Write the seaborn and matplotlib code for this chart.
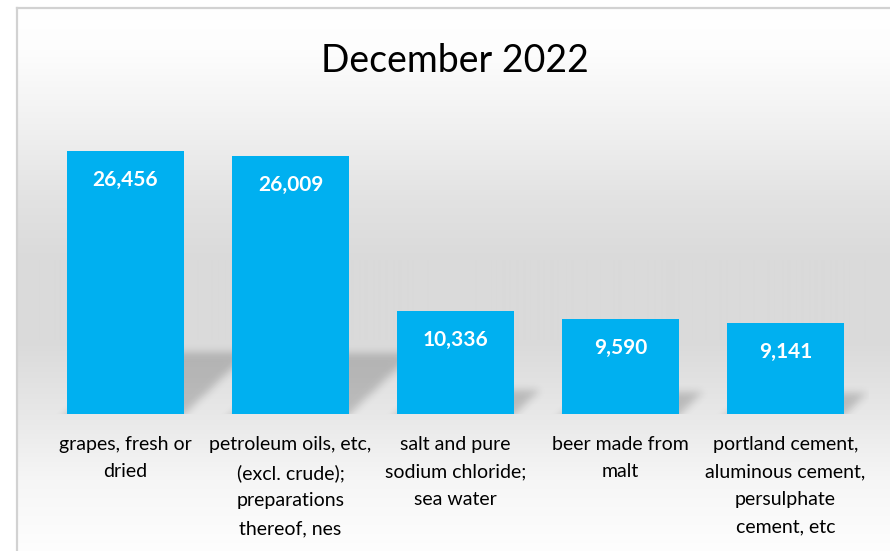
import numpy as np
import pandas as pd
import matplotlib
matplotlib.use("Agg")
import matplotlib.pyplot as plt
import seaborn as sns
from matplotlib.path import Path

# ---------------- data ----------------
categories = [
    "grapes, fresh or\ndried",
    "petroleum oils, etc,\n(excl. crude);\npreparations\nthereof, nes",
    "salt and pure\nsodium chloride;\nsea water",
    "beer made from\nmalt",
    "portland cement,\naluminous cement,\npersulphate\ncement, etc",
]
values = [26456, 26009, 10336, 9590, 9141]
title = "December 2022"

sns.set_theme(style="white")
plt.rcParams["font.family"] = ["Lato", "DejaVu Sans"]

W, H = 890, 551
fig = plt.figure(figsize=(W / 100, H / 100), dpi=100)
fig.patch.set_facecolor("white")

# ---------------- background panel with vertical gradient ----------------
top_px = 8
bg = fig.add_axes([17 / W, 0, 1 - 17 / W, (H - top_px) / H])
stops_y = np.array([8, 50, 130, 200, 260, 340, 420, 480, 551]) - top_px
stops_v = np.array([255, 253, 240, 226, 218, 218, 233, 246, 254]) / 255
yy = np.arange(H - top_px)
g = np.interp(yy, stops_y, stops_v)
grad = np.repeat(g[:, None], 2, axis=1)
bg.imshow(np.dstack([grad] * 3), aspect="auto", extent=(0, 1, 0, 1),
          origin="upper", interpolation="bilinear")
bg.set_xticks([])
bg.set_yticks([])
for s in ["right", "bottom"]:
    bg.spines[s].set_visible(False)
for s in ["top", "left"]:
    bg.spines[s].set_color("#d2d2d2")
    bg.spines[s].set_linewidth(1.6)

# ---------------- main axes ----------------
ax_left, ax_right, ax_base, ax_top = 43, 868, 414, 136
ax = fig.add_axes([ax_left / W, (H - ax_base) / H,
                   (ax_right - ax_left) / W, (ax_base - ax_top) / H])
ax.set_facecolor("none")
YMAX = 28000

df = pd.DataFrame({"category": categories, "value": values})
sns.barplot(data=df, x="category", y="value", color="#00B0F0",
            saturation=1, width=0.71, ax=ax, zorder=2,
            edgecolor="none", linewidth=0)
ax.set_xlim(-0.5, 4.5)
ax.set_ylim(0, YMAX)

# ---------------- soft perspective shadows ----------------
pw, ph = ax_right - ax_left, ax_base - ax_top
pad = 30
xs = np.arange(pw) + 0.5
ys = np.arange(-pad, ph) + 0.5
XX, YY = np.meshgrid(-0.5 + xs / (pw / 5.0), ys / ph * YMAX)
pts = np.column_stack([XX.ravel(), YY.ravel()])
mask = np.zeros(XX.shape)
for p in ax.patches:
    xl, w, h = p.get_x(), p.get_width(), p.get_height()
    hs = 0.235 * h
    hs_px = hs * ph / YMAX
    dx = 1.05 * hs_px / (pw / 5.0)
    ext = -5000
    dx_ext = 1.05 * ext * ph / YMAX / (pw / 5.0)
    poly = Path([(xl + dx_ext, ext), (xl + w + dx_ext, ext), (xl + w + dx, hs),
                 (xl + dx, hs), (xl + dx_ext, ext)])
    mask = np.maximum(mask, poly.contains_points(pts).reshape(XX.shape).astype(float))

sig = 4.0
k = np.arange(-12, 13)
kern = np.exp(-0.5 * (k / sig) ** 2)
kern /= kern.sum()
mask = np.apply_along_axis(lambda r: np.convolve(r, kern, mode="same"), 1, mask)
mask = np.apply_along_axis(lambda c: np.convolve(c, kern, mode="same"), 0, mask)
mask = mask[pad:, :]
rgba = np.zeros(mask.shape + (4,))
rgba[..., 3] = 0.19 * mask
ax.imshow(rgba, extent=(-0.5, 4.5, 0, YMAX), origin="lower",
          aspect="auto", zorder=1, interpolation="bilinear")
ax.set_xlim(-0.5, 4.5)
ax.set_ylim(0, YMAX)

# ---------------- value labels ----------------
for i, v in enumerate(values):
    ax.annotate(f"{v:,}", xy=(i, v), xytext=(0, -29), textcoords="offset pixels",
                ha="center", va="center", color="white", fontweight="bold",
                fontsize=15, zorder=3)

# ---------------- axes styling ----------------
for s in ax.spines.values():
    s.set_visible(False)
ax.set_yticks([])
ax.set_xlabel("")
ax.set_ylabel("")
ax.tick_params(axis="x", length=0, pad=15.5)
for lbl in ax.get_xticklabels():
    lbl.set_fontsize(14)
    lbl.set_linespacing(1.76)
    lbl.set_color("#000000")

fig.text(455 / W, 1 - 61 / H, title, ha="center", va="center",
         fontsize=27, color="black")

fig.savefig("out.png", dpi=100)
